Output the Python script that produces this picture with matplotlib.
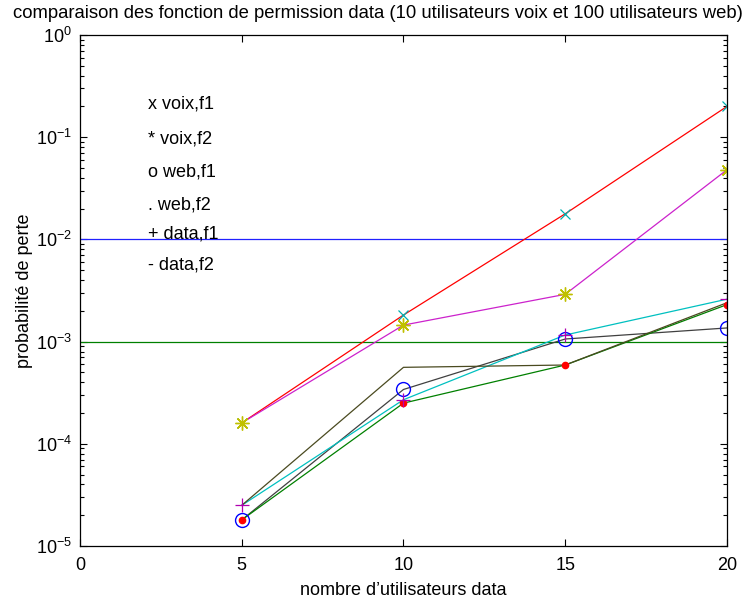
import matplotlib
matplotlib.use("Agg")
import matplotlib.pyplot as plt
import numpy as np
from matplotlib.ticker import LogLocator, FixedLocator, FuncFormatter

plt.rcParams["font.family"] = ["Liberation Sans", "DejaVu Sans"]
plt.rcParams["mathtext.fontset"] = "custom"
plt.rcParams["mathtext.rm"] = "Liberation Sans"
plt.rcParams["mathtext.it"] = "Liberation Sans"

# nombre d'utilisateurs data
nb_data = [5, 10, 15, 20]

# probabilités de perte
voix_f1 = [1.6e-4, 1.82e-3, 1.78e-2, 2.0e-1]
voix_f2 = [1.6e-4, 1.45e-3, 2.9e-3, 4.8e-2]
web_f1 = [1.8e-5, 3.4e-4, 1.06e-3, 1.36e-3]
web_f2 = [1.8e-5, 2.5e-4, 5.9e-4, 2.3e-3]
data_f1 = [2.5e-5, 2.7e-4, 1.16e-3, 2.6e-3]
data_f2 = [2.5e-5, 5.6e-4, 5.9e-4, 2.4e-3]

seuils = [1e-2, 1e-3]
legende = ["x voix,f1", "* voix,f2", "o web,f1", ". web,f2", "+ data,f1", "- data,f2"]
legende_y = [0.21, 0.096, 0.046, 0.0218, 0.0112, 0.0056]

titre = "comparaison des fonction de permission data (10 utilisateurs voix et 100 utilisateurs web)"

fig = plt.figure(figsize=(7.56, 6.01), dpi=100)
ax = fig.add_axes([0.1058, 0.0915, 0.8558, 0.8503])

# seuils horizontaux
ax.axhline(seuils[0], color="#2020ff", lw=0.9)
ax.axhline(seuils[1], color="#008000", lw=0.9)

# courbes
ax.plot(nb_data, voix_f1, color="#ff0000", lw=0.9)
ax.plot(nb_data, voix_f2, color="#cc22cc", lw=0.9)
ax.plot(nb_data, web_f1, color="#404040", lw=0.9)
ax.plot(nb_data, web_f2, color="#008000", lw=0.9)
ax.plot(nb_data, data_f1, color="#00c0c0", lw=0.9)
ax.plot(nb_data, data_f2, color="#4a4a20", lw=0.9)

# marqueurs
ax.plot(nb_data, voix_f1, "x", color="#00b0b0", ms=7, mew=0.9)
ax.plot(nb_data, voix_f2, marker=(8, 2, 0), ls="none", color="#c0c000", ms=10, mew=1.0)
ax.plot(nb_data, web_f1, "o", mfc="none", mec="#0000ff", ms=10, mew=1.0)
ax.plot(nb_data, web_f2, ".", color="#ff0000", ms=9)
ax.plot(nb_data, data_f1, "+", color="#b000b0", ms=10, mew=0.9)

for txt, yv in zip(legende, legende_y):
    ax.text(2.1, yv, txt, fontsize=13, va="center", ha="left")

ax.set_yscale("log")
ax.set_xlim(0, 20)
ax.set_ylim(1e-5, 1)
ax.xaxis.set_major_locator(FixedLocator([0, 5, 10, 15, 20]))
ax.yaxis.set_major_locator(LogLocator(base=10, numticks=10))
ax.yaxis.set_minor_locator(LogLocator(base=10, subs=np.arange(2, 10), numticks=20))
ax.yaxis.set_major_formatter(FuncFormatter(
    lambda v, p: r"$\mathregular{10^{%d}}$" % int(round(np.log10(v)))))
ax.tick_params(which="both", direction="in", top=True, right=True, labelsize=13)
ax.tick_params(which="major", length=5, width=0.8)
ax.tick_params(which="minor", length=3, width=0.8)
ax.tick_params(axis="x", pad=8)
ax.tick_params(axis="y", pad=6)
for s in ax.spines.values():
    s.set_linewidth(0.9)

ax.set_xlabel("nombre d\u2019utilisateurs data", fontsize=13, labelpad=6)
ax.set_ylabel("probabilit\u00e9 de perte", fontsize=13, labelpad=2)
# titre centré sur la figure (dépasse l'axe comme dans l'original)
fig.text(0.5, 1 - 13 / 601, titre, fontsize=13.3, ha="center", va="center")

fig.savefig("out.png", dpi=100)
